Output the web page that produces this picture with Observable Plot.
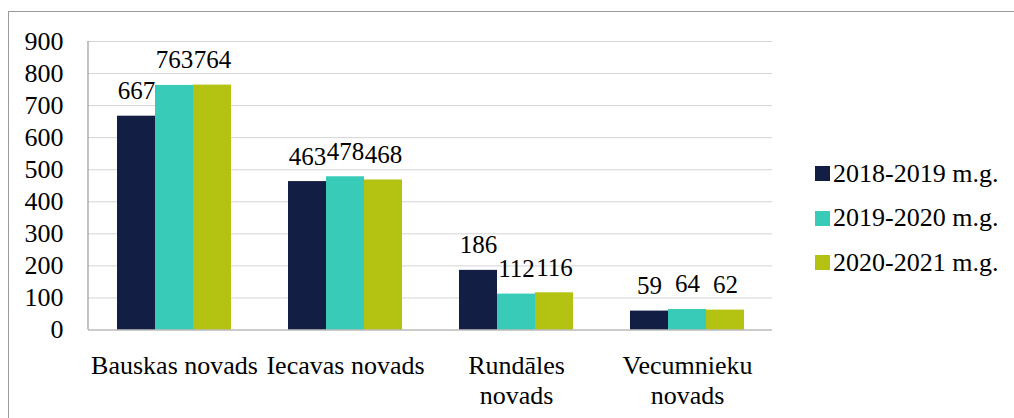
<!DOCTYPE html>
<html>
<head>
<meta charset="utf-8">
<script src="https://cdn.jsdelivr.net/npm/d3@7"></script>
<script src="https://cdn.jsdelivr.net/npm/@observablehq/plot@0.6"></script>
<style>
  html, body { margin: 0; padding: 0; background: #fff; }
  #wrap { position: relative; width: 1014px; height: 418px; overflow: hidden;
          font-family: 'Liberation Serif', serif; }
  #frame { position: absolute; left: 8px; top: 11px; width: 1100px; height: 500px;
           border-left: 1px solid #9a9a9a; border-top: 1px solid #9a9a9a; }
  #chart { position: absolute; left: 0; top: 0; }
  #legend { position: absolute; left: 815px; top: 0; }
  .item { position: absolute; left: 0; white-space: nowrap; font-size: 26px; color: #000;
          display: flex; align-items: center; height: 30px; font-family: 'Liberation Serif', serif; }
  .sw { width: 15px; height: 15px; margin-right: 3px; display: inline-block; }
</style>
</head>
<body>
<div id="wrap">
  <div id="frame"></div>
  <div id="chart"></div>
  <div id="legend"></div>
</div>
<script>
const categories = ["Bauskas novads", "Iecavas novads", "Rundāles novads", "Vecumnieku novads"];
const categoryLabels = ["Bauskas novads", "Iecavas novads", "Rundāles\nnovads", "Vecumnieku\nnovads"];
const seriesNames = ["2018-2019 m.g.", "2019-2020 m.g.", "2020-2021 m.g."];
const values2018 = [667, 463, 186, 59];
const values2019 = [763, 478, 112, 64];
const values2020 = [764, 468, 116, 62];
const colors = ["#131e45", "#38cbb7", "#b4c212"];
const yTicks = [0, 100, 200, 300, 400, 500, 600, 700, 800, 900];

const FONT = "'Liberation Serif', serif";
const seriesValues = [values2018, values2019, values2020];
const data = [];
seriesNames.forEach((s, i) => categories.forEach((c, j) => data.push({category: c, series: s, si: i, value: seriesValues[i][j]})));

const bandW = 114;
const barW = bandW / 3;

const marks = [
  Plot.ruleY(yTicks.filter(d => d > 0), {stroke: "#d4d4d4", strokeWidth: 1}),
];
seriesNames.forEach((s, i) => {
  const sub = data.filter(d => d.si === i);
  marks.push(Plot.barY(sub, {
    x: "category", y: "value", fill: colors[i],
    insetLeft: i * barW, insetRight: (2 - i) * barW
  }));
  marks.push(Plot.text(sub, {
    x: "category", y: "value", text: d => String(d.value),
    dx: (i - 1) * barW, dy: -17, lineAnchor: "bottom",
    fontSize: 25, fill: "#000", fontFamily: FONT
  }));
});
marks.push(Plot.ruleY([0], {stroke: "#9a9a9a", strokeWidth: 1.2}));
marks.push(Plot.axisY({ticks: yTicks, tickSize: 0, tickPadding: 25, fontSize: 26, label: null,
  fontFamily: FONT, tickFormat: d => String(d)}));
marks.push(Plot.axisX({tickSize: 0, tickPadding: 23, fontSize: 26, label: null, lineHeight: 1.15,
  fontFamily: FONT, tickFormat: d => categoryLabels[categories.indexOf(d)]}));

const plot = Plot.plot({
  width: 1014,
  height: 418,
  marginLeft: 88,
  marginRight: 242,
  marginTop: 41,
  marginBottom: 88.5,
  style: {fontFamily: FONT, background: "transparent", color: "#000"},
  x: {type: "band", domain: categories, paddingInner: 1/3, paddingOuter: 1/6, axis: null},
  y: {domain: [0, 900], axis: null},
  marks
});
plot.setAttribute("font-family", FONT);
document.getElementById("chart").appendChild(plot);

const svg = d3.select(plot);
const yS = plot.scale("y");
svg.append("line")
  .attr("x1", 88).attr("x2", 88)
  .attr("y1", yS.apply(900)).attr("y2", yS.apply(0))
  .attr("stroke", "#9a9a9a").attr("stroke-width", 1.2);

const rowCenters = [173.5, 218, 262.5];
const legend = document.getElementById("legend");
seriesNames.forEach((s, i) => {
  const it = document.createElement("div");
  it.className = "item";
  it.style.top = (rowCenters[i] - 15) + "px";
  it.style.fontFamily = FONT;
  const sw = document.createElement("span");
  sw.className = "sw";
  sw.style.background = colors[i];
  const tx = document.createElement("span");
  tx.textContent = s;
  it.appendChild(sw);
  it.appendChild(tx);
  legend.appendChild(it);
});
</script>
</body>
</html>
